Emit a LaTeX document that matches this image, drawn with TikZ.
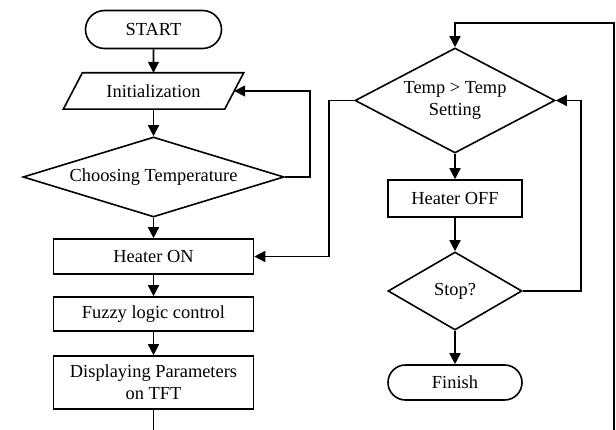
\documentclass[tikz,border=0pt]{standalone}
\usepackage{fontspec}
\setmainfont{Liberation Serif}
\usetikzlibrary{arrows.meta,shapes.geometric,shapes.misc}

\tikzset{
  every node/.style={font=\fontsize{18.4}{22}\selectfont, inner sep=0pt, align=center},
  outline/.style={draw=black, line width=1.6pt, fill=white},
  terminal/.style={outline, rounded rectangle, minimum width=136pt, minimum height=38pt},
  procbox/.style={outline, rectangle, minimum width=200pt},
  decision/.style={outline, diamond},
  flow/.style={line width=1.6pt, draw=black},
  arr/.style={flow, -{Triangle[length=11pt,width=11pt]}},
}

\begin{document}
\begin{tikzpicture}[x=1pt, y=-1pt]
  \useasboundingbox (0,0) rectangle (616,430);

  % left column
  \node[terminal] (start) at (153.5,29.5) {START};
  % input/output step: text node with a slanted frame drawn round it
  \node[rectangle, minimum width=161pt, minimum height=36pt] (init) at (153.5,91) {Initialization};
  \draw[line width=1.6pt, line join=miter]
    ([xshift=9.5pt]init.north west) -- ([xshift=9.5pt]init.north east) --
    ([xshift=-9.5pt]init.south east) -- ([xshift=-9.5pt]init.south west) -- cycle;
  \node[decision, aspect=3.26, minimum width=261pt, minimum height=80pt] (choose) at (153.5,177) {Choosing Temperature};
  \node[procbox, minimum height=35pt] (heat) at (153.5,256.5) {Heater ON};
  \node[procbox, minimum height=34pt] (fuzzy) at (153.5,314) {Fuzzy logic control};
  \node[procbox, minimum height=53pt] (disp) at (153.5,382.5) {Displaying Parameters\\on TFT};

  % right column
  \node[decision, aspect=1.9, minimum width=200pt, minimum height=105pt] (tset) at (455,100.5) {Temp > Temp\\Setting};
  \node[outline, rectangle, minimum width=134pt, minimum height=37pt] (off) at (455,198.5) {Heater OFF};
  \node[decision, aspect=1.7, minimum width=134pt, minimum height=78pt] (stop) at (455,291) {Stop?};
  \node[outline, rounded rectangle, minimum width=134pt, minimum height=35pt] (finish) at (455,382.5) {Finish};

  % loose ends running off the lower edge
  \coordinate (exitL) at (153.5,432);
  \coordinate (exitR) at (614,432);
  \coordinate (cornerR) at (614,23);

  % main flow
  \draw[arr] (start) -- (init);
  \draw[arr] (init) -- (choose);
  \draw[arr] (choose) -- (heat);
  \draw[arr] (heat) -- (fuzzy);
  \draw[arr] (fuzzy) -- (disp);
  \draw[flow] (disp) -- (exitL);

  \draw[arr] (choose.east) -- ++(25,0) |- (init.east);
  \draw[arr] (tset.west) -- ++(-25,0) |- (heat.east);

  \draw[arr] (exitR) -- (cornerR) -| (tset.north);
  \draw[arr] (tset) -- (off);
  \draw[arr] (off) -- (stop);
  \draw[arr] (stop) -- (finish);
  \draw[arr] (stop.east) -- ++(58,0) |- (tset.east);
\end{tikzpicture}
\end{document}
